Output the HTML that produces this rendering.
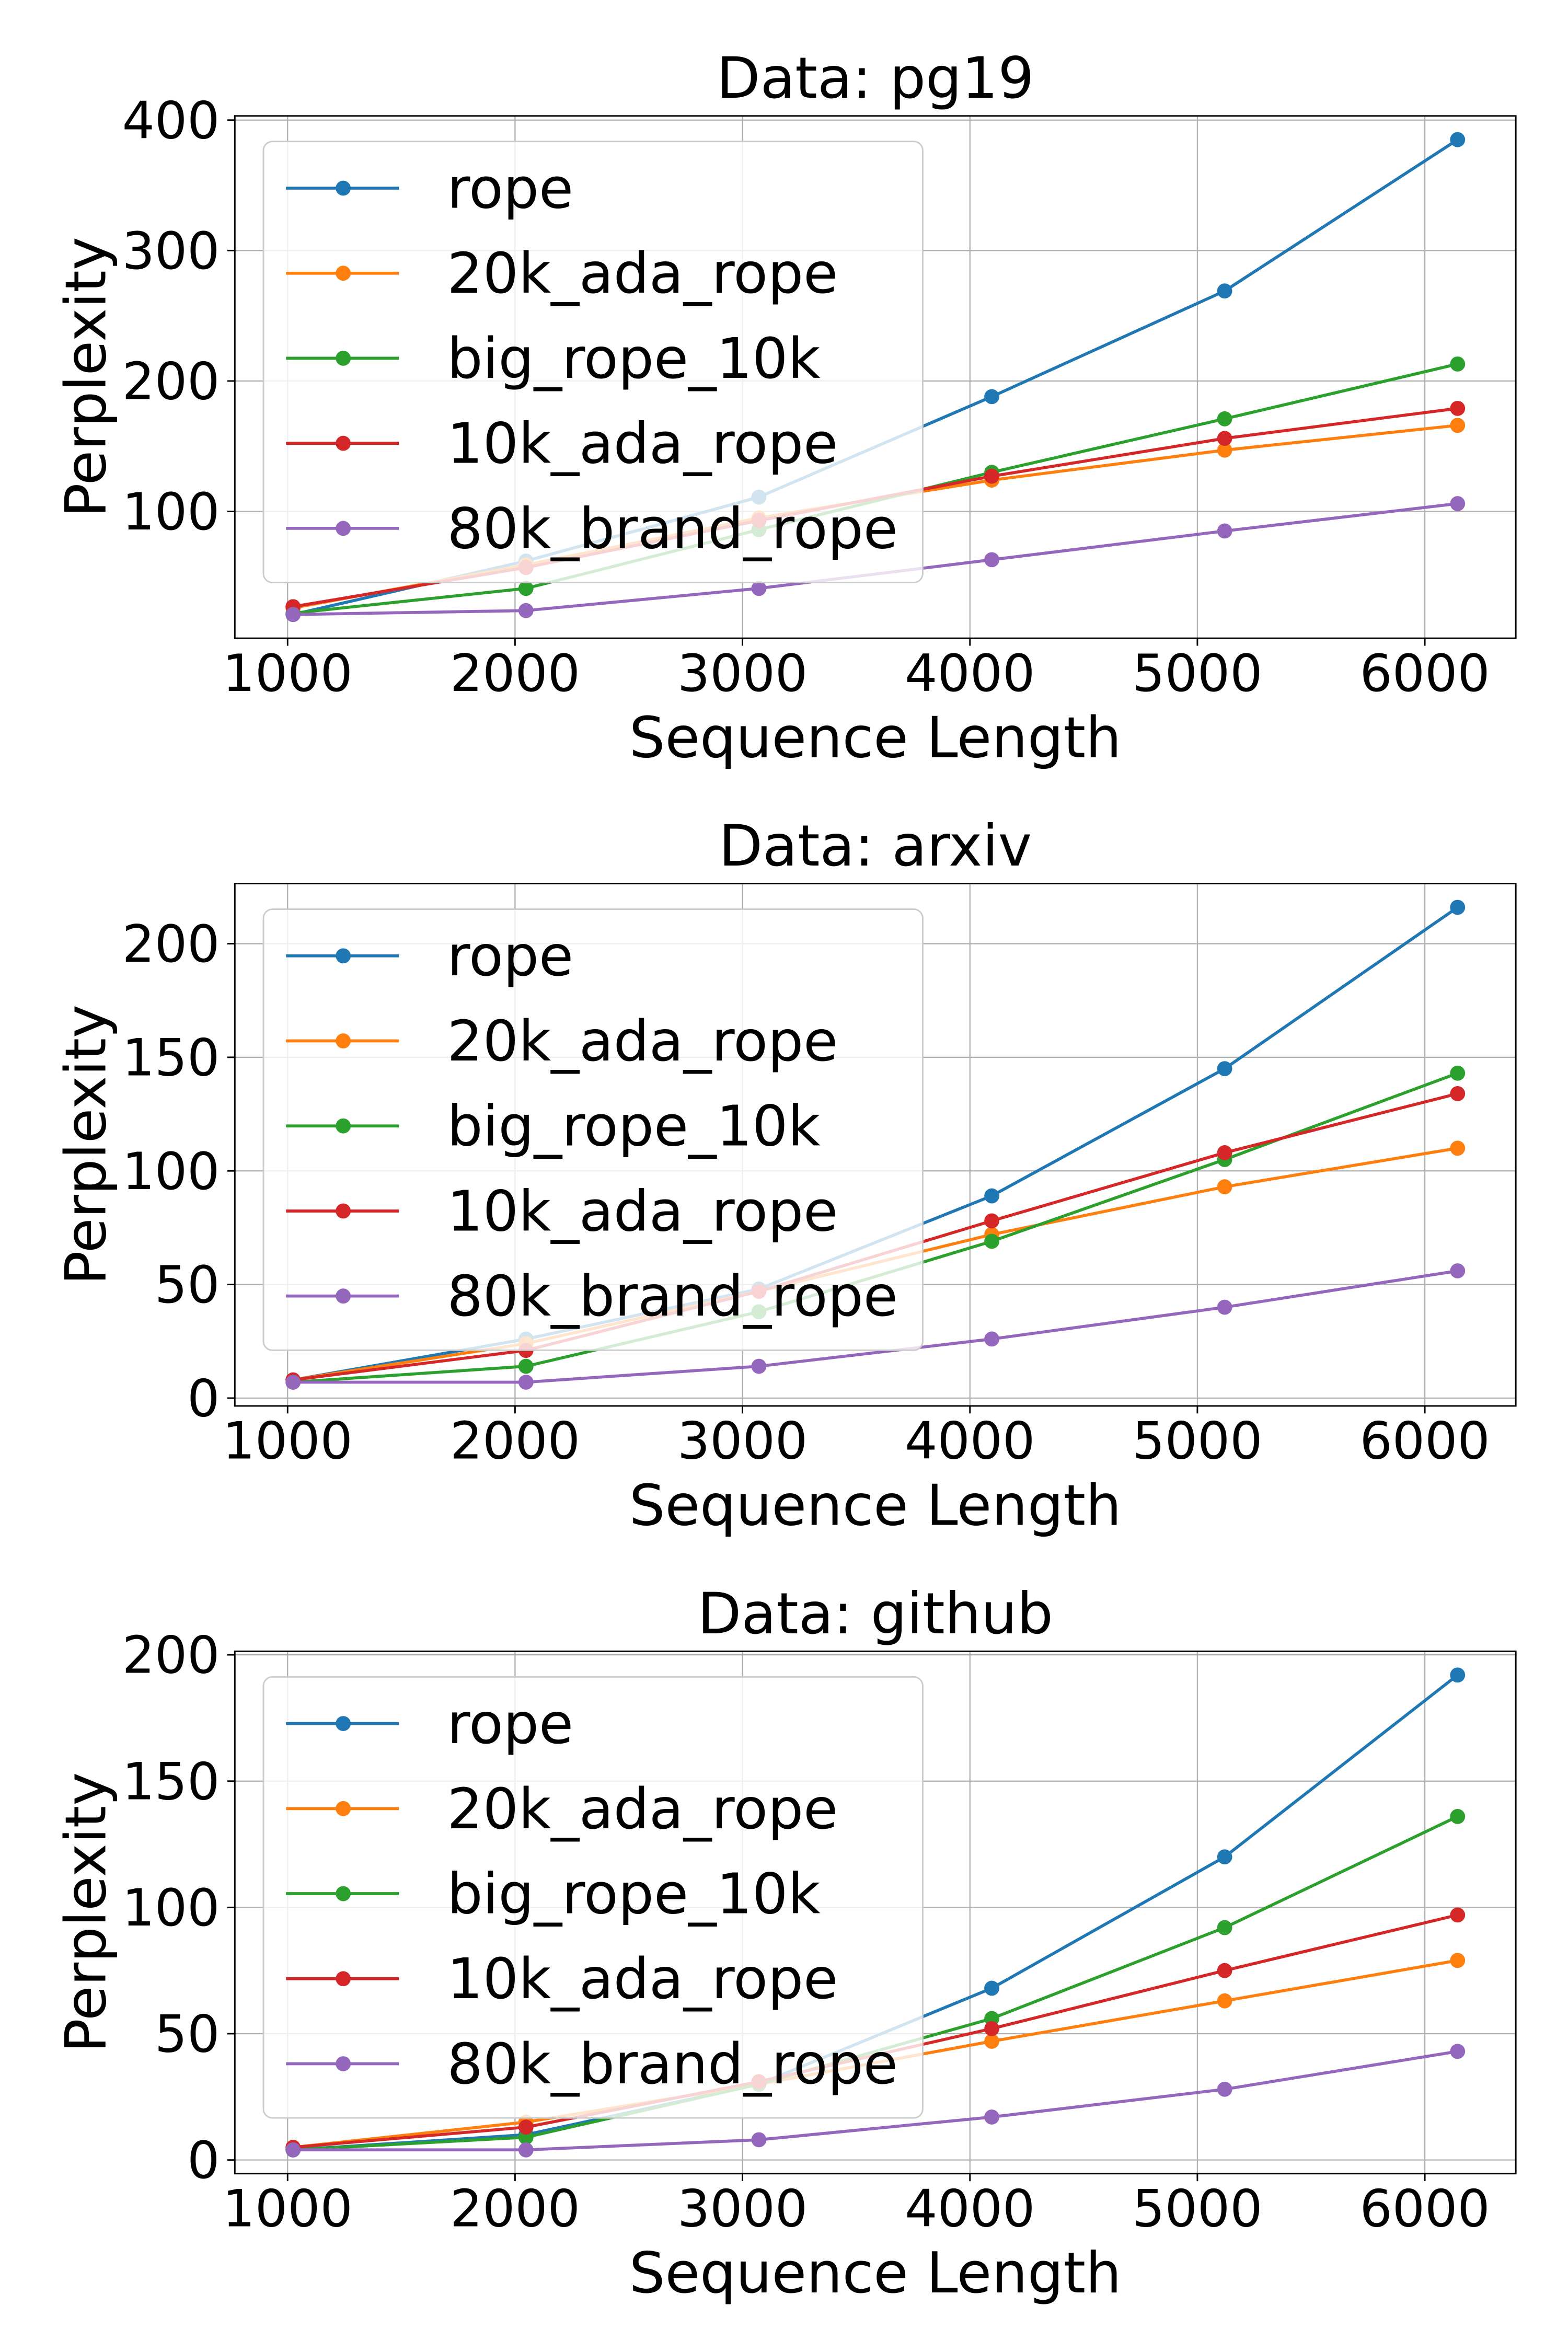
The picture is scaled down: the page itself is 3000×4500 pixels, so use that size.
<!DOCTYPE html>
<html><head><meta charset="utf-8"><style>
html,body{margin:0;padding:0;background:#fff;}
svg{display:block;font-family:"DejaVu Sans","Liberation Sans",sans-serif;}
</style></head><body>
<svg id="fig" xmlns="http://www.w3.org/2000/svg" width="3000" height="4500" viewBox="0 0 1041.667 1562.5"></svg>
<script>
const seqLengths = [1024, 2048, 3072, 4096, 5120, 6144];
const seriesNames = ["rope", "20k_ada_rope", "big_rope_10k", "10k_ada_rope", "80k_brand_rope"];
const xTicks = [1000, 2000, 3000, 4000, 5000, 6000];

const pg19Rope = [21, 62, 111, 188, 269, 385];
const pg19Ada20k = [26, 59, 95, 124, 147, 166];
const pg19Big10k = [22, 41, 86, 130, 171, 213];
const pg19Ada10k = [27, 57, 93, 127, 156, 179];
const pg19Brand80k = [21, 24, 41, 63, 85, 106];
const pg19YTicks = [100, 200, 300, 400];

const arxivRope = [8, 26, 48, 89, 145, 216];
const arxivAda20k = [8, 24, 47, 72, 93, 110];
const arxivBig10k = [7, 14, 38, 69, 105, 143];
const arxivAda10k = [8, 21, 47, 78, 108, 134];
const arxivBrand80k = [7, 7, 14, 26, 40, 56];
const arxivYTicks = [0, 50, 100, 150, 200];

const githubRope = [4, 10, 30, 68, 120, 192];
const githubAda20k = [5, 15, 30, 47, 63, 79];
const githubBig10k = [4, 9, 30, 56, 92, 136];
const githubAda10k = [5, 13, 31, 52, 75, 97];
const githubBrand80k = [4, 4, 8, 17, 28, 43];
const githubYTicks = [0, 50, 100, 150, 200];

const colors = ["#1f77b4", "#ff7f0e", "#2ca02c", "#d62728", "#9467bd"];
const NS = "http://www.w3.org/2000/svg";
const fig = document.getElementById("fig");

function mk(tag, attrs, parent, text) {
  const e = document.createElementNS(NS, tag);
  for (const k in attrs) e.setAttribute(k, attrs[k]);
  if (text !== undefined) e.textContent = text;
  parent.appendChild(e);
  return e;
}

function drawPanel(title, top, series, yTicks, key) {
  const L = 156, R = 1007, T = top, B = top + 347;
  const g = mk("g", {}, fig);
  
  
  const xmin = 768, xmax = 6400;
  let lo = Infinity, hi = -Infinity;
  series.forEach(s => s.forEach(v => { lo = Math.min(lo, v); hi = Math.max(hi, v); }));
  const pad = (hi - lo) * 0.05; const ymin = lo - pad, ymax = hi + pad;
  const xs = v => L + (v - xmin) / (xmax - xmin) * (R - L);
  const ys = v => B - (v - ymin) / (ymax - ymin) * (B - T);

  xTicks.forEach(t => {
    const l = mk("line", {x1: xs(t), x2: xs(t), y1: T, y2: B, stroke: "#b0b0b0", "stroke-width": 0.8}, g);
    
    
    mk("line", {x1: xs(t), x2: xs(t), y1: B, y2: B + 5, stroke: "#000", "stroke-width": 1}, g);
    const tx = mk("text", {x: xs(t), y: B + 35, "font-size": 34, "text-anchor": "middle"}, g, String(t));
    
    
  });
  yTicks.forEach(t => {
    const l = mk("line", {x1: L, x2: R, y1: ys(t), y2: ys(t), stroke: "#b0b0b0", "stroke-width": 0.8}, g);
    
    
    mk("line", {x1: L - 5, x2: L, y1: ys(t), y2: ys(t), stroke: "#000", "stroke-width": 1}, g);
    const tx = mk("text", {x: L - 10, y: ys(t) + 12, "font-size": 34, "text-anchor": "end"}, g, String(t));
    
    
  });

  series.forEach((s, i) => {
    const pts = s.map((v, j) => xs(seqLengths[j]).toFixed(2) + "," + ys(v).toFixed(2)).join(" ");
    const pl = mk("polyline", {points: pts, fill: "none", stroke: colors[i], "stroke-width": 2}, g);
    
    
    s.forEach((v, j) => {
      const c = mk("circle", {cx: xs(seqLengths[j]), cy: ys(v), r: 5, fill: colors[i]}, g);
      
      
    });
  });

  const lg = mk("g", {}, g);
  
  
  mk("rect", {x: 175, y: T + 17, width: 438, height: 293, rx: 6, fill: "rgba(255,255,255,0.8)", stroke: "#cccccc", "stroke-width": 1}, lg);
  seriesNames.forEach((n, i) => {
    const y = T + 48 + i * 56.5;
    const e = mk("g", {}, lg);
    
    
    mk("line", {x1: 190, x2: 265, y1: y, y2: y, stroke: colors[i], "stroke-width": 2}, e);
    mk("circle", {cx: 228, cy: y, r: 5, fill: colors[i]}, e);
    mk("text", {x: 297, y: y + 13, "font-size": 37.3}, e, n);
  });

  const sp = mk("rect", {x: L, y: T, width: R - L, height: B - T, fill: "none", stroke: "#000", "stroke-width": 1}, g);
  
  

  const ti = mk("text", {x: (L + R) / 2, y: T - 12, "font-size": 37.8, "text-anchor": "middle"}, g, title);
  
  
  const xl = mk("text", {x: (L + R) / 2, y: B + 79, "font-size": 37.6, "text-anchor": "middle"}, g, "Sequence Length");
  
  
  const yc = (T + B) / 2;
  const yl = mk("text", {x: 70, y: yc, "font-size": 37.6, "text-anchor": "middle", transform: "rotate(-90 70 " + yc + ")"}, g, "Perplexity");
  
  
}

drawPanel("Data: pg19", 77, [pg19Rope, pg19Ada20k, pg19Big10k, pg19Ada10k, pg19Brand80k], pg19YTicks, "pg19");
drawPanel("Data: arxiv", 587, [arxivRope, arxivAda20k, arxivBig10k, arxivAda10k, arxivBrand80k], arxivYTicks, "arxiv");
drawPanel("Data: github", 1097, [githubRope, githubAda20k, githubBig10k, githubAda10k, githubBrand80k], githubYTicks, "github");
</script>
</body></html>
